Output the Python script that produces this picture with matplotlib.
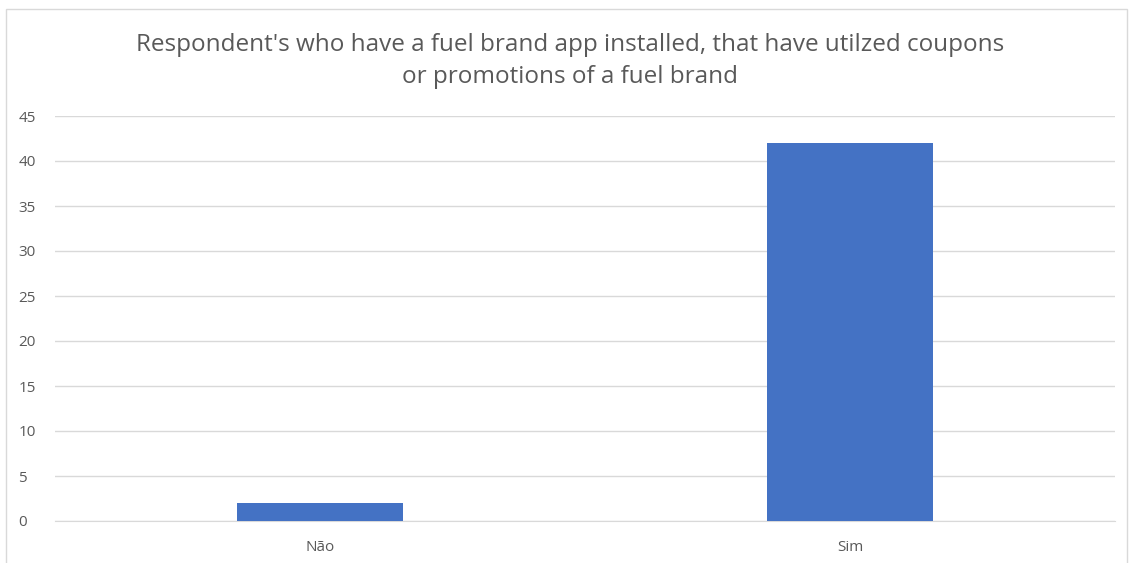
import matplotlib.pyplot as plt
from matplotlib.patches import Rectangle

categories = ['Não', 'Sim']
values = [2, 42]
y_ticks = [0, 5, 10, 15, 20, 25, 30, 35, 40, 45]
title = ("Respondent's who have a fuel brand app installed, that have utilzed coupons\n"
         "or promotions of a fuel brand")

plt.rcParams['font.family'] = ['Open Sans', 'DejaVu Sans']

fig = plt.figure(figsize=(11.31, 5.63), dpi=100)
ax = fig.add_axes([55 / 1131, 1 - 521 / 563, 1060 / 1131, 405 / 563])

x = list(range(len(categories)))
ax.bar(x, values, width=0.313, color='#4472C4', zorder=3)

ax.set_xlim(-0.5, len(categories) - 0.5)
ax.set_ylim(0, 45)
ax.set_yticks(y_ticks)
ax.set_xticks(x)
ax.set_xticklabels(categories)
ax.grid(axis='y', color='#D9D9D9', linewidth=1, zorder=0)
for side in ['top', 'right', 'left']:
    ax.spines[side].set_visible(False)
ax.spines['bottom'].set_color('#D9D9D9')
ax.tick_params(axis='both', length=0, colors='#595959', labelsize=11)
ax.tick_params(axis='y', pad=26.5)
ax.tick_params(axis='x', pad=14)
for lbl in ax.get_yticklabels():
    lbl.set_horizontalalignment('left')

fig.text(570 / 1131, 1 - 61 / 563, title, ha='center', va='center',
         fontsize=17.5, color='#595959', linespacing=1.42)

# chart border
fig.patches.append(Rectangle((6 / 1131, -0.05), 1121 / 1131, 1 - 9 / 563 + 0.05,
                             transform=fig.transFigure, fill=False,
                             edgecolor='#D9D9D9', linewidth=1))

fig.savefig('out.png', dpi=100)
